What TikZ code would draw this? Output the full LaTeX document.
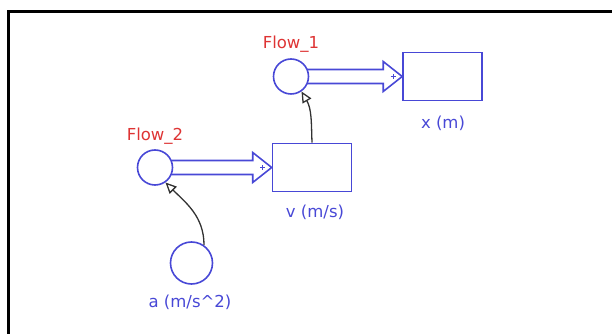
\documentclass[tikz,border=0pt]{standalone}
\usepackage{fontspec}
\setmainfont{DejaVu Sans}
\usetikzlibrary{calc,arrows.meta}
\definecolor{simblue}{RGB}{72,72,214}
\definecolor{simred}{RGB}{222,52,52}
\definecolor{linkgray}{RGB}{50,50,50}
\tikzset{
  stock/.style = {draw=simblue, line width=1.6pt, minimum width=79pt, minimum height=48pt, inner sep=0pt},
  rate/.style = {draw=simblue, line width=1.6pt, circle, minimum size=35pt, inner sep=0pt},
  aux/.style = {draw=simblue, line width=1.6pt, circle, minimum size=42pt, inner sep=0pt},
  varname/.style = {text=simblue, font=\fontsize{16.5}{18}\selectfont},
  flowname/.style = {text=simred, font=\fontsize{16.5}{18}\selectfont},
  pipe/.style = {draw=simblue, line width=1.6pt, line join=miter},
  link/.style = {draw=linkgray, line width=1.3pt, -{Triangle[open, length=11pt, width=10pt]}}
}
\begin{document}
\begin{tikzpicture}[x=1pt, y=1pt]
\useasboundingbox (0,0) rectangle (612,334);
% frame
\draw[line width=2.2pt] (8.5,0) -- (8.5,322.5) -- (612,322.5);
% rates, stocks, auxiliary
\node[rate] (f1) at (291,257.5) {};
\node[flowname] (f1-name) at (291,290) {Flow\_1};
\node[stock] (x) at (442.5,257.5) {};
\node[varname] (x-name) at (443,211) {x (m)};
\node[rate] (f2) at (155,166.5) {};
\node[flowname] (f2-name) at (155,198) {Flow\_2};
\node[stock] (v) at (312,166.5) {};
\node[varname] (v-name) at (315,122) {v (m/s)};
\node[aux] (a) at (191.5,71) {};
\node[varname] (a-name) at (190,32) {a (m/s\^{}2)};
% flows
\draw[pipe] ($(f1.center)+(16,7)$) -- ($(x.west)+(-19,7)$) -- ++(0,8) -- (x.west)
  -- ($(x.west)+(-19,-15)$) -- ++(0,8) -- ($(f1.center)+(16,-7)$);
\draw[simblue, line width=0.8pt] ($(x.west)+(-9,0)$) +(-2.5,0) -- +(2.5,0) +(0,-2.5) -- +(0,2.5);
\draw[pipe] ($(f2.center)+(16.5,7)$) -- ($(v.west)+(-19,7)$) -- ++(0,8) -- (v.west)
  -- ($(v.west)+(-19,-15)$) -- ++(0,8) -- ($(f2.center)+(16.5,-7)$);
\draw[simblue, line width=0.8pt] ($(v.west)+(-9,0)$) +(-2.5,0) -- +(2.5,0) +(0,-2.5) -- +(0,2.5);
% links
\draw[link] (a.55) to[out=90, in=-45] (f2.-55);
\draw[link] (v.north) to[out=92, in=-60] (f1.-55);
\end{tikzpicture}
\end{document}
